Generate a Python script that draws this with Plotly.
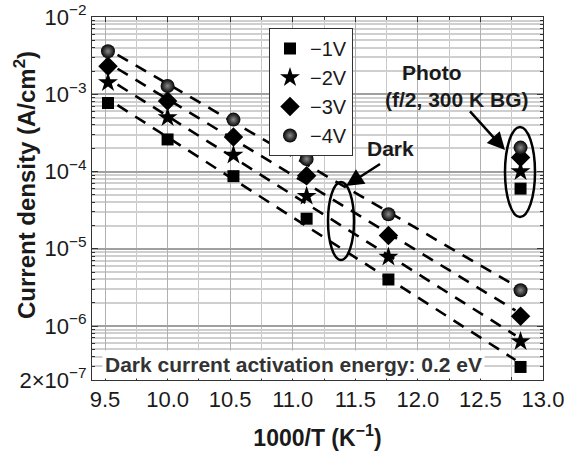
import numpy as np
import plotly.graph_objects as go

# ---- data ----
temps_K = [105, 100, 95, 90, 85, 78]
inv_T = [1000.0 / t for t in temps_K]
series_names = ["\u22121V", "\u22122V", "\u22123V", "\u22124V"]
dark_1V = [7.7e-4, 2.6e-4, 8.7e-5, 2.45e-5, 4.0e-6, 2.95e-7]
dark_2V = [1.42e-3, 5.0e-4, 1.63e-4, 4.8e-5, 7.8e-6, 6.3e-7]
dark_3V = [2.3e-3, 8.2e-4, 2.8e-4, 8.8e-5, 1.48e-5, 1.34e-6]
dark_4V = [3.6e-3, 1.28e-3, 4.7e-4, 1.45e-4, 2.8e-5, 2.9e-6]
photo_T_K = 78
photo_vals = [6.0e-5, 1.0e-4, 1.52e-4, 2.04e-4]
fit_x_span = [9.6, 12.78]
y_tickvals = [1e-2, 1e-3, 1e-4, 1e-5, 1e-6, 2e-7]
y_ticktext = ["10<sup>\u22122</sup>", "10<sup>\u22123</sup>", "10<sup>\u22124</sup>",
              "10<sup>\u22125</sup>", "10<sup>\u22126</sup>", "2\u00d710<sup>\u22127</sup>"]

dark_all = [dark_1V, dark_2V, dark_3V, dark_4V]
symbols = ["square", "star", "diamond", "circle"]
sizes = [12, 15, 15, 14]

FONT = "Liberation Sans, Arial"
fig = go.Figure()

# fitted dashed lines (Arrhenius fits)
for vals in dark_all:
    k, b = np.polyfit(inv_T, np.log10(vals), 1)
    xs = np.array(fit_x_span)
    fig.add_trace(go.Scatter(x=xs, y=10 ** (k * xs + b), mode="lines",
                             line=dict(color="black", width=2.6, dash="12px,9px"),
                             showlegend=False, hoverinfo="skip"))

for i, vals in enumerate(dark_all):
    marker = dict(symbol=symbols[i], size=sizes[i], color="black", line=dict(width=0))
    if symbols[i] == "circle":
        marker["gradient"] = dict(type="radial", color="#8a8a8a")
        marker["color"] = "#030303"
    xs = inv_T + [1000.0 / photo_T_K]
    ys = vals + [photo_vals[i]]
    fig.add_trace(go.Scatter(x=xs, y=ys, mode="markers", name=series_names[i],
                             marker=marker))

W, H = 567, 453
L, R, T, B = 92, 24, 17, 73
pw, ph = W - L - R, H - T - B


def px(x):
    return (x - L) / pw


def py(y):
    return (H - B - y) / ph


fig.update_layout(
    width=W, height=H,
    margin=dict(l=L, r=R, t=T, b=B, autoexpand=False),
    paper_bgcolor="white", plot_bgcolor="white",
    font=dict(family=FONT, color="#1a1a1a"),
    legend=dict(x=px(269), y=py(28), xanchor="left", yanchor="top",
                bgcolor="white", bordercolor="#333", borderwidth=1,
                font=dict(size=20, color="#1a1a1a"), tracegroupgap=0),
    xaxis=dict(range=[9.396, 13.0], tick0=9.5, dtick=0.5, tickformat=".1f",
               automargin=False, ticklabeloverflow="allow",
               ticks="inside", ticklen=5, tickcolor="#333", mirror="ticks",
               showline=True, linecolor="#333", linewidth=1,
               showgrid=True, gridcolor="#b0b0b0", gridwidth=1, zeroline=False,
               tickfont=dict(family=FONT, size=22, color="#1a1a1a"),
               minor=dict(dtick=0.25, tick0=9.5, showgrid=True, gridcolor="#c8c8c8",
                          ticks="inside", ticklen=3, tickcolor="#333"),
               title=dict(text="<b>1000/T (K<sup>\u22121</sup>)</b>",
                          font=dict(family=FONT, size=23, color="#1a1a1a"), standoff=18)),
    yaxis=dict(type="log", range=[np.log10(2e-7), -2], tickvals=y_tickvals,
               automargin=False, ticklabeloverflow="allow",
               ticktext=y_ticktext, ticks="inside", ticklen=6, tickcolor="#333",
               mirror="ticks", showline=True, linecolor="#333", linewidth=1,
               showgrid=True, gridcolor="#a0a0a0", gridwidth=1.5, zeroline=False,
               tickfont=dict(family=FONT, size=22, color="#1a1a1a"),
               minor=dict(dtick="D1", showgrid=True, gridcolor="#cfcfcf",
                          ticks="inside", ticklen=3, tickcolor="#333")),
)

# y-axis title placed precisely
fig.add_annotation(x=px(25), y=py(185), xref="paper", yref="paper",
                   text="<b>Current density (A/cm<sup>2</sup>)</b>", textangle=-90,
                   showarrow=False, xanchor="center", yanchor="middle",
                   font=dict(family=FONT, size=24, color="#1a1a1a"))

txt = dict(family=FONT, size=21, color="#1a1a1a")
fig.add_annotation(x=px(431), y=py(72), xref="paper", yref="paper", text="<b>Photo</b>",
                   showarrow=False, font=txt, xanchor="center", yanchor="middle")
fig.add_annotation(x=px(457), y=py(100), xref="paper", yref="paper",
                   text="<b>(f/2, 300 K BG)</b>", showarrow=False, font=txt,
                   xanchor="center", yanchor="middle")
fig.add_annotation(x=px(390), y=py(148), xref="paper", yref="paper", text="<b>Dark</b>",
                   showarrow=False, font=txt, xanchor="center", yanchor="middle")
fig.add_annotation(x=px(293), y=py(364), xref="paper", yref="paper",
                   text="<b>Dark current activation energy: 0.2 eV</b>", showarrow=False,
                   font=dict(family=FONT, size=21, color="#333"),
                   xanchor="center", yanchor="middle",
                   bgcolor="white", borderpad=2)

# arrows
fig.add_annotation(x=px(505), y=py(150), xref="paper", yref="paper", text=" ",
                   showarrow=True, arrowhead=2, arrowsize=1.4, arrowwidth=2.5,
                   arrowcolor="black", ax=-38, ay=-42)
fig.add_annotation(x=px(346), y=py(186), xref="paper", yref="paper", text=" ",
                   showarrow=True, arrowhead=2, arrowsize=1.4, arrowwidth=2.5,
                   arrowcolor="black", ax=37, ay=-24)

# ellipses
fig.add_shape(type="circle", xref="paper", yref="paper",
              x0=px(505), x1=px(535), y0=py(217), y1=py(127),
              line=dict(color="black", width=2.5))
fig.add_shape(type="circle", xref="paper", yref="paper",
              x0=px(328), x1=px(354), y0=py(260), y1=py(182),
              line=dict(color="black", width=2.5))

# remove the browser's default 8px body margin so the figure fills the window
fig.write_html("out.html", config={"displayModeBar": False},
               post_script="document.body.style.margin='0';")
